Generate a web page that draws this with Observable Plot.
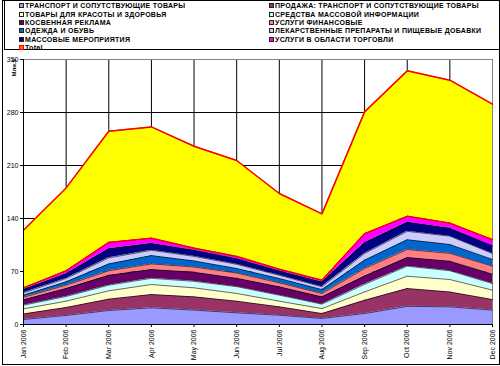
<!DOCTYPE html>
<html><head><meta charset="utf-8">
<script src="https://cdn.jsdelivr.net/npm/d3@7"></script>
<script src="https://cdn.jsdelivr.net/npm/@observablehq/plot@0.6"></script>
<style>
body{margin:0;background:#fff;font-family:"Liberation Sans",Arial,sans-serif;}
#wrap{position:relative;width:500px;height:366px;overflow:hidden;}
#frame{position:absolute;left:2px;top:0;width:498px;height:365px;border:1px solid #000;box-sizing:border-box;pointer-events:none;}
#legend{position:absolute;left:4px;top:0;width:496px;height:50px;border:1px solid #000;box-sizing:border-box;background:#fff;}
.item{position:absolute;font-size:7px;font-weight:bold;letter-spacing:0.3px;line-height:8px;white-space:nowrap;color:#000;}
.sw{position:absolute;width:3px;height:3px;border:1px solid #222;}
#chart{position:absolute;left:0;top:0;}
</style>
</head><body>
<div id="wrap"><div id="chart"></div><div id="legend"></div><div id="frame"></div></div>
<script>
const months = ["Jan 2006","Feb 2006","Mar 2006","Apr 2006","May 2006","Jun 2006","Jul 2006","Aug 2006","Sep 2006","Oct 2006","Nov 2006","Dec 2006"];
const seriesNames = [
  "ТРАНСПОРТ И СОПУТСТВУЮЩИЕ ТОВАРЫ",
  "ПРОДАЖА: ТРАНСПОРТ И СОПУТСТВУЮЩИЕ ТОВАРЫ",
  "ТОВАРЫ ДЛЯ КРАСОТЫ И ЗДОРОВЬЯ",
  "СРЕДСТВА МАССОВОЙ ИНФОРМАЦИИ",
  "КОСВЕННАЯ РЕКЛАМА",
  "УСЛУГИ ФИНАНСОВЫЕ",
  "ОДЕЖДА И ОБУВЬ",
  "ЛЕКАРСТВЕННЫЕ ПРЕПАРАТЫ И ПИЩЕВЫЕ ДОБАВКИ",
  "МАССОВЫЕ МЕРОПРИЯТИЯ",
  "УСЛУГИ В ОБЛАСТИ ТОРГОВЛИ",
  "Total"
];
const colors = ["#9999FF","#993366","#FFFFCC","#CCFFFF","#660066","#FF8080","#0066CC","#CCCCFF","#000080","#FF00FF","#FFFF00"];
const transport   = [6.6,12,18.5,22,19,15.4,12.3,8,14.5,24,23.3,19];
const salesTransp = [7.4,10.5,15,17.6,17.5,15.4,11,6.5,17.5,23.5,19.7,14];
const beauty      = [6.7,8.3,11,13.2,11.9,10.2,7.5,6.5,11,16.3,16.4,12.4];
const media       = [4.8,6.2,7.5,8.2,8.6,9,7.9,5.9,10,13.2,11.6,8.6];
const indirect    = [7.1,10.6,13,11.6,12,11,11.1,9.6,11,11.5,12.6,12.5];
const finance     = [3.4,4.4,6,7.4,7,7,5.2,4.5,10,10.5,10.4,10.5];
const clothes     = [2.7,4.4,9,11,8,6,5.8,5.2,11,13,11.7,9];
const medicine    = [3.1,4.4,8,7,6,5.5,4.2,3.6,8.8,11,11,7.8];
const events      = [4.4,6.2,12,9,8,7.5,5.5,6.2,14.2,12,10.3,10.2];
const trade       = [2.3,4,8.5,7,3,3,2.5,2.5,12,8,7,8];
const total       = [76,109.4,146.8,147,134.5,126.6,100,87.6,160.8,192,188.7,179];
const yTicks = [0,70,140,210,280,350];

const values = [transport,salesTransp,beauty,media,indirect,finance,clothes,medicine,events,trade,total];
const data = seriesNames.flatMap((name,k)=>values[k].map((v,i)=>({i, series:name, v})));

const chart = Plot.plot({
  width:500, height:366,
  marginLeft:23, marginRight:8, marginTop:59, marginBottom:42,
  style:{fontFamily:"'Liberation Sans', Arial, sans-serif", fontSize:"7px", background:"transparent", color:"#000"},
  x:{domain:[0,11]},
  y:{domain:[0,350]},
  color:{domain:seriesNames, range:colors},
  marks:[
    Plot.gridY(yTicks.slice(1,-1), {stroke:"#000", strokeOpacity:1}),
    Plot.gridX(d3.range(1,11), {stroke:"#000", strokeOpacity:1}),
    Plot.ruleY([350], {stroke:"#808080"}),
    Plot.ruleX([11], {stroke:"#808080"}),
    Plot.areaY(data, Plot.stackY({x:"i", y:"v", fill:"series"})),
    Plot.lineY(data, Plot.stackY2({x:"i", y:"v", z:"series", stroke:"#000", strokeWidth:0.6})),
    Plot.lineY(data, Plot.groupX({y:"sum"}, {x:"i", y:"v", filter:d=>d.series!=="Total", stroke:"#FF0000", strokeWidth:1.3})),
    Plot.lineY(data, Plot.groupX({y:"sum"}, {x:"i", y:"v", stroke:"#FF0000", strokeWidth:1.5})),
    Plot.axisY({ticks:yTicks, tickSize:3, tickPadding:2, label:null}),
    Plot.axisX({ticks:d3.range(12), tickFormat:i=>months[i], tickRotate:-90, tickSize:3, tickPadding:2, label:null}),
    Plot.ruleX([0], {stroke:"#000"}),
    Plot.ruleY([0], {stroke:"#000"}),
    Plot.text(["Млн.$"], {frameAnchor:"top-left", dx:-12, dy:17, rotate:-90, fontWeight:"bold", fontSize:6})
  ]
});
document.getElementById("chart").appendChild(chart);

const legend = d3.select("#legend");
seriesNames.forEach((name,k)=>{
  const row = Math.floor(k/2), col = k%2;
  const cy = 5.7 + row*8.4;
  const sx = col===0 ? 14 : 264;
  legend.append("div").attr("class","sw")
    .style("left", sx+"px").style("top",(cy-3.5)+"px")
    .style("background", name==="Total" ? "#FF6600" : colors[k])
    .style("border-color", name==="Total" ? "#FF0000" : "#222");
  legend.append("div").attr("class","item")
    .style("left",(sx+6)+"px").style("top",(cy-4.5)+"px")
    .text(name);
});
</script>
</body></html>
